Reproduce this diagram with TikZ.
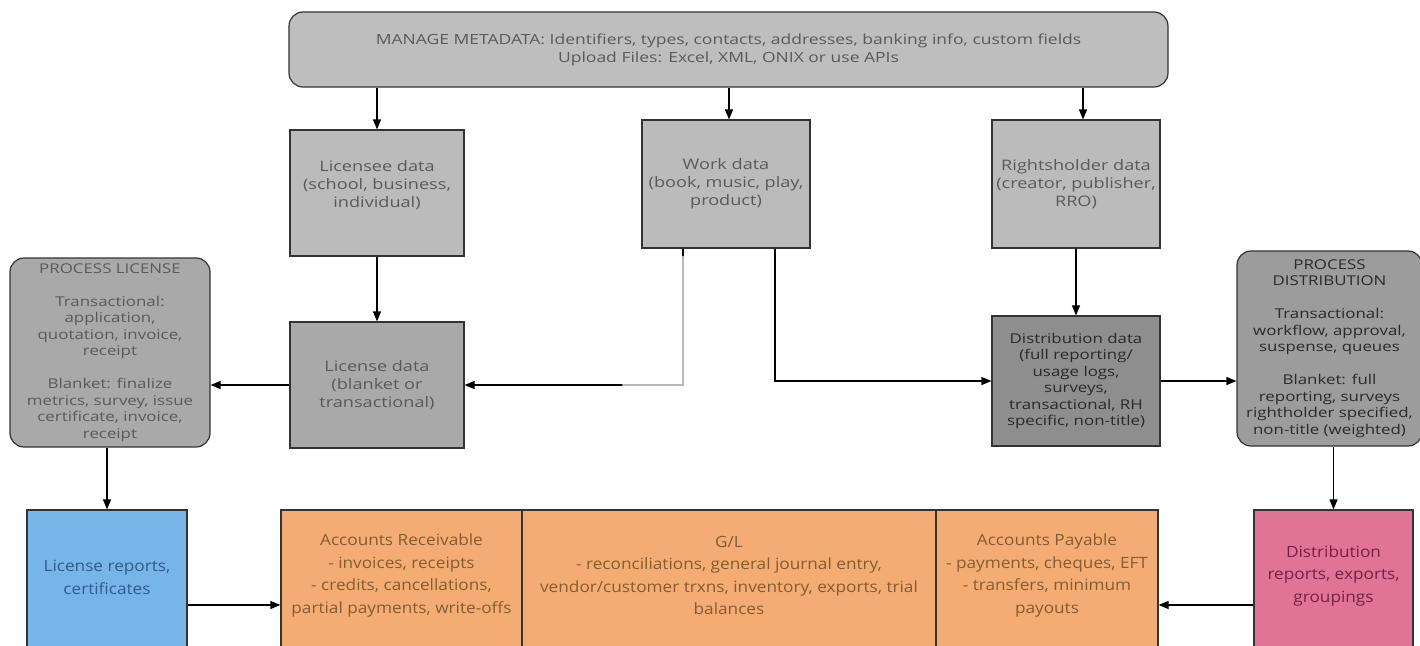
\documentclass[tikz,border=0pt]{standalone}
\usepackage{fontspec}
\setmainfont{Open Sans}
\newfontfamily\widefont[FakeStretch=1.25]{Open Sans}
\newfontfamily\botfont[FakeStretch=1.11]{Open Sans}
\usetikzlibrary{arrows.meta}
\definecolor{topgray}{HTML}{BEBEBE}
\definecolor{lightbox}{HTML}{BBBBBB}
\definecolor{midbox}{HTML}{A9A9A9}
\definecolor{darkbox}{HTML}{8E8E8E}
\definecolor{procdbox}{HTML}{9C9C9C}
\definecolor{edge}{HTML}{333333}
\definecolor{graytext}{HTML}{5A5A5A}
\definecolor{darktext}{HTML}{2A2A2A}
\definecolor{bluefill}{HTML}{77B4E8}
\definecolor{bluetext}{HTML}{2D5E8C}
\definecolor{orangefill}{HTML}{F3AD74}
\definecolor{browntext}{HTML}{8A5A2E}
\definecolor{pinkfill}{HTML}{E07497}
\definecolor{pinktext}{HTML}{7A1E46}
\tikzset{
  box/.style={draw=edge, line width=1.2pt, inner sep=0pt},
  rbox/.style={box, rounded corners=14pt},
  midtxt/.style={align=center, text=graytext, font=\widefont\fontsize{14.5}{18}\selectfont, inner sep=0pt},
  proctxt/.style={align=center, text=graytext, font=\widefont\fontsize{13.5}{16.5}\selectfont, inner sep=0pt},
  bottxt/.style={align=center, font=\botfont\fontsize{15.5}{22.5}\selectfont, inner sep=0pt},
  arr/.style={-{Triangle[length=10pt,width=8pt]}, line width=1.2pt, draw=black},
}
\begin{document}
\begin{tikzpicture}[x=1pt,y=-1pt]
\useasboundingbox (0,0) rectangle (1420,645);
\clip (0,0) rectangle (1420,645);
\fill[white] (0,0) rectangle (1420,645);

% top
\node[rbox, fill=topgray, minimum width=879pt, minimum height=75pt,
  align=center, text=graytext, font=\widefont\fontsize{14}{18}\selectfont] (meta) at (728.5,49.5)
  {MANAGE METADATA: Identifiers, types, contacts, addresses, banking info, custom fields\\Upload Files: Excel, XML, ONIX or use APIs};

% second row
\node[box, fill=lightbox, minimum width=174pt, minimum height=126pt] (lice) at (377,193) {};
\node[midtxt] (licet) at (377,185) {Licensee data\\(school, business,\\individual)};
\node[box, fill=lightbox, minimum width=168pt, minimum height=128pt, midtxt] (work) at (726,184) {Work data\\(book, music, play,\\product)};
\node[box, fill=lightbox, minimum width=168pt, minimum height=128pt, midtxt] (rights) at (1076,184) {Rightsholder data\\(creator, publisher,\\RRO)};

% third row
\node[box, fill=midbox, minimum width=174pt, minimum height=126pt, midtxt] (licd) at (377,385) {License data\\(blanket or\\transactional)};
\node[rbox, fill=midbox, minimum width=200pt, minimum height=189pt, proctxt] (procl) at (110,352.5)
  {PROCESS LICENSE\\[16.5pt]Transactional:\\application,\\quotation, invoice,\\receipt\\[16.5pt]Blanket: finalize\\metrics, survey, issue\\certificate, invoice,\\receipt};
\node[box, fill=darkbox, minimum width=168pt, minimum height=130pt, proctxt, text=darktext] (distd) at (1076,381)
  {Distribution data\\(full reporting/\\usage logs,\\surveys,\\transactional, RH\\specific, non-title)};
\node[rbox, fill=procdbox, minimum width=185pt, minimum height=195pt, proctxt, text=darktext] (procd) at (1329.5,348.5)
  {PROCESS\\DISTRIBUTION\\[16.5pt]Transactional:\\workflow, approval,\\suspense, queues\\[16.5pt]Blanket: full\\reporting, surveys\\rightholder specified,\\non-title (weighted)};

% bottom row
\node[box, fill=bluefill, minimum width=160pt, minimum height=190pt] (licr) at (107,605) {};
\node[bottxt, text=bluetext] at (107,577.5) {License reports,\\certificates};
\node[box, fill=orangefill, minimum width=241pt, minimum height=190pt] (ar) at (401.5,605) {};
\node[box, fill=orangefill, minimum width=414pt, minimum height=190pt] (gl) at (729,605) {};
\node[box, fill=orangefill, minimum width=222pt, minimum height=190pt] (ap) at (1047,605) {};
\node[bottxt, text=browntext] at (401.5,575.5) {Accounts Receivable\\- invoices, receipts\\- credits, cancellations,\\partial payments, write-offs};
\node[bottxt, text=browntext] at (729,575.5) {G/L\\- reconciliations, general journal entry,\\vendor/customer trxns, inventory, exports, trial\\balances};
\node[bottxt, text=browntext] at (1047,575.5) {Accounts Payable\\- payments, cheques, EFT\\- transfers, minimum\\payouts};
\node[box, fill=pinkfill, minimum width=159pt, minimum height=190pt] (distr) at (1333.5,605) {};
\node[bottxt, text=pinktext] at (1333.5,575.5) {Distribution\\reports, exports,\\groupings};

% connectors
\draw[arr] (meta.south -| lice.north) -- (lice.north);
\draw[arr] ([xshift=3pt]meta.south -| work.north) -- ([xshift=3pt]work.north);
\draw[arr] ([xshift=7pt]meta.south -| rights.north) -- ([xshift=7pt]rights.north);
\draw[arr] (lice.south) -- (licd.north);
\draw[arr] (licd.west) -- (licd.west -| procl.east);
\draw[arr] ([xshift=-43pt]work.south) |- (licd.east);
\draw[line width=2.2pt, draw=gray!55, line cap=round] ([xshift=-43pt,yshift=-8pt]work.south) |- ([xshift=-103pt]work.south |- licd.east);
\draw[arr] ([xshift=49pt]work.south) |- (distd.west);
\draw[arr] (rights.south) -- (distd.north);
\draw[arr] (distd.east) -- (distd.east -| procd.west);
\draw[arr] (procl.south -| licr.north) -- (licr.north);
\draw[arr] (distr.north |- procd.south) -- (distr.north);
\draw[arr] (licr.east) -- (ar.west);
\draw[arr] (distr.west) -- (ap.east);
\end{tikzpicture}
\end{document}
